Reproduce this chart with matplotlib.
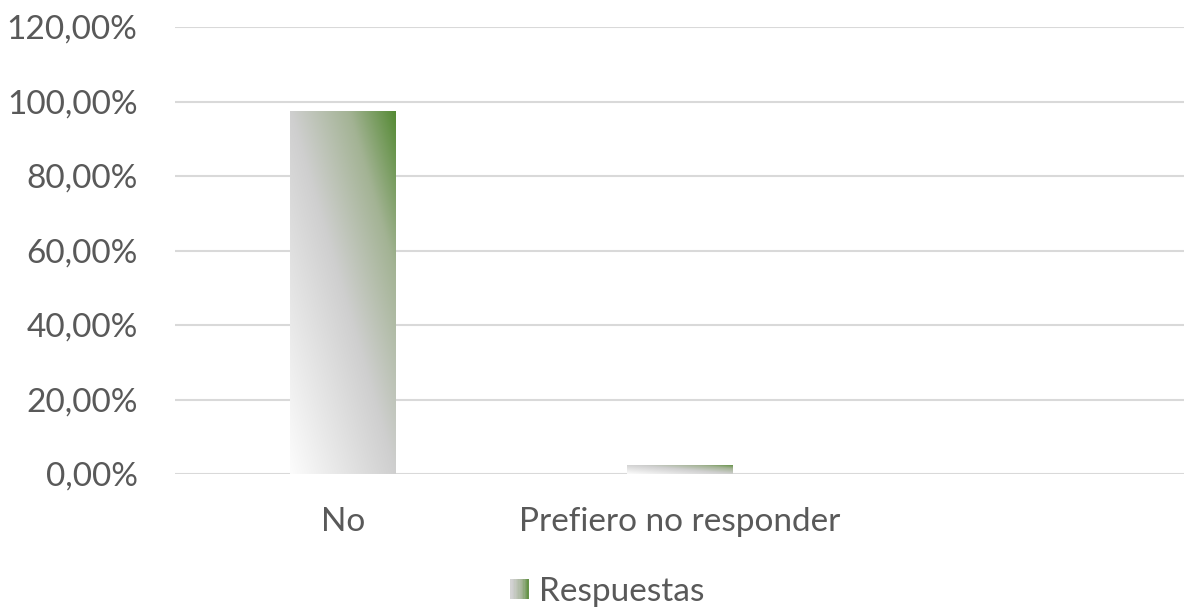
import numpy as np
import matplotlib
matplotlib.use("Agg")
import matplotlib.pyplot as plt
from matplotlib.colors import LinearSegmentedColormap
from matplotlib.patches import Rectangle
from matplotlib.legend_handler import HandlerBase
from matplotlib.ticker import FuncFormatter

plt.rcParams["font.family"] = ["Lato", "DejaVu Sans"]

categories = ["No", "Prefiero no responder", ""]
values = [0.9756, 0.0244, np.nan]
series_name = "Respuestas"
yticks = [0, 0.2, 0.4, 0.6, 0.8, 1.0, 1.2]

TXT = "#595959"
GRID = "#d9d9d9"
cmap = LinearSegmentedColormap.from_list(
    "grad", [(0.0, "#fcfcfc"), (0.5, "#cfcfcf"), (0.78, "#a3b394"), (1.0, "#558a34")])

fig = plt.figure(figsize=(11.86, 6.14), dpi=100)
ax = fig.add_axes([0.1476, 0.228, 0.851, 0.728])

x = np.arange(len(categories))
bars = ax.bar(x, np.nan_to_num(values), width=0.315, color="none", edgecolor="none", zorder=3)

# diagonal gradient fill, clipped to each bar
u, v = np.meshgrid(np.linspace(0, 1, 200), np.linspace(0, 1, 200))
grad = (u + v) / 2
for b in bars:
    if b.get_height() <= 0:
        continue
    x0, y0 = b.get_x(), b.get_y()
    w, h = b.get_width(), b.get_height()
    im = ax.imshow(grad, cmap=cmap, vmin=0, vmax=1, origin="lower",
                   extent=[x0, x0 + w, y0, y0 + h], aspect="auto", zorder=3,
                   interpolation="bilinear")
    im.set_clip_path(b)

ax.set_xlim(-0.5, len(categories) - 0.5)
ax.set_ylim(0, 1.2)
ax.set_yticks(yticks)
ax.yaxis.set_major_formatter(FuncFormatter(lambda y, _: f"{y*100:.2f}%".replace(".", ",")))
ax.set_xticks(x)
ax.set_xticklabels(categories)
ax.grid(True, axis="y", color=GRID, linewidth=1.5, zorder=0)
for s in ax.spines.values():
    s.set_visible(False)
ax.tick_params(axis="y", length=0, pad=27, labelsize=24, labelcolor=TXT)
ax.tick_params(axis="x", length=0, pad=24, labelsize=24, labelcolor=TXT)


class GradHandler(HandlerBase):
    def create_artists(self, legend, orig_handle, xdescent, ydescent,
                       width, height, fontsize, trans):
        n = 14
        arts = []
        for i in range(n):
            r = Rectangle((-xdescent + i * width / n, -ydescent), width / n, height,
                          facecolor=cmap(0.45 + 0.5 * i / (n - 1)), edgecolor="none",
                          transform=trans)
            arts.append(r)
        return arts


proxy = Rectangle((0, 0), 1, 1)
leg = fig.legend([proxy], [series_name], handler_map={Rectangle: GradHandler()},
                 loc="center", bbox_to_anchor=(0.512, 0.036), frameon=False,
                 fontsize=24, handlelength=0.55, handleheight=0.55, handletextpad=0.3)
for t in leg.get_texts():
    t.set_color(TXT)

fig.savefig("out.png", dpi=100)
